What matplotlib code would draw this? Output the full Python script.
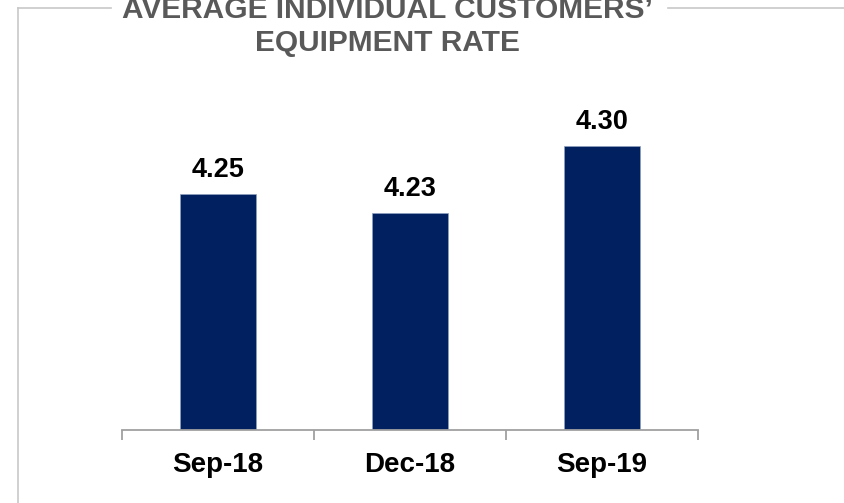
import matplotlib
matplotlib.use('Agg')
from matplotlib import pyplot as plt
from matplotlib.lines import Line2D

categories = ['Sep-18', 'Dec-18', 'Sep-19']
values = [4.25, 4.23, 4.30]
value_labels = ['4.25', '4.23', '4.30']
title = 'AVERAGE INDIVIDUAL CUSTOMERS\u2019\nEQUIPMENT RATE'

plt.rcParams['font.family'] = ['Liberation Sans', 'DejaVu Sans']

W, H = 844, 503
fig = plt.figure(figsize=(W / 100, H / 100), dpi=100)

# axes placed in pixel terms: x 122..698, y 47..430 (from top)
ax = fig.add_axes([122 / W, (H - 430) / H, 576 / W, 383 / H])
ybottom = 4.004
ax.set_ylim(ybottom, ybottom + 383 / 958)
ax.set_xlim(-0.5, len(categories) - 0.5)

x = list(range(len(categories)))
bars = ax.bar(x, [v - ybottom for v in values], bottom=ybottom, width=0.4,
              color='#00205f', edgecolor='#8fa0c0', linewidth=0.5)

for xi, v, lab in zip(x, values, value_labels):
    ax.annotate(lab, (xi, v), xytext=(0, 8), textcoords='offset points',
                ha='center', va='bottom', fontsize=19.5, fontweight='bold',
                color='black')

for s in ['top', 'right', 'left']:
    ax.spines[s].set_visible(False)
ax.spines['bottom'].set_color('#a0a0a0')
ax.spines['bottom'].set_linewidth(1.3)
ax.set_yticks([])

ax.set_xticks(x)
ax.set_xticklabels(categories, fontsize=20, fontweight='bold')
ax.tick_params(axis='x', which='major', length=0, pad=16)
ax.set_xticks([i - 0.5 for i in range(len(categories) + 1)], minor=True)
ax.tick_params(axis='x', which='minor', length=7, width=1.3, color='#a0a0a0',
               direction='out')

# frame around the chart with a gap for the title
fc = '#c8c8c8'
fig.add_artist(Line2D([18 / W, 18 / W], [0, 1 - 8 / H], color=fc, lw=1.2,
                      transform=fig.transFigure))
fig.add_artist(Line2D([18 / W, 111 / W], [1 - 8 / H, 1 - 8 / H], color=fc,
                      lw=1.2, transform=fig.transFigure))
fig.add_artist(Line2D([668 / W, 1], [1 - 8 / H, 1 - 8 / H], color=fc,
                      lw=1.2, transform=fig.transFigure))

fig.text(387 / W, 1 - 26.5 / H, title, ha='center', va='center',
         multialignment='center', fontsize=21.5, fontweight='bold',
         color='#595959', linespacing=1.2)

fig.savefig('out.png', dpi=100)
